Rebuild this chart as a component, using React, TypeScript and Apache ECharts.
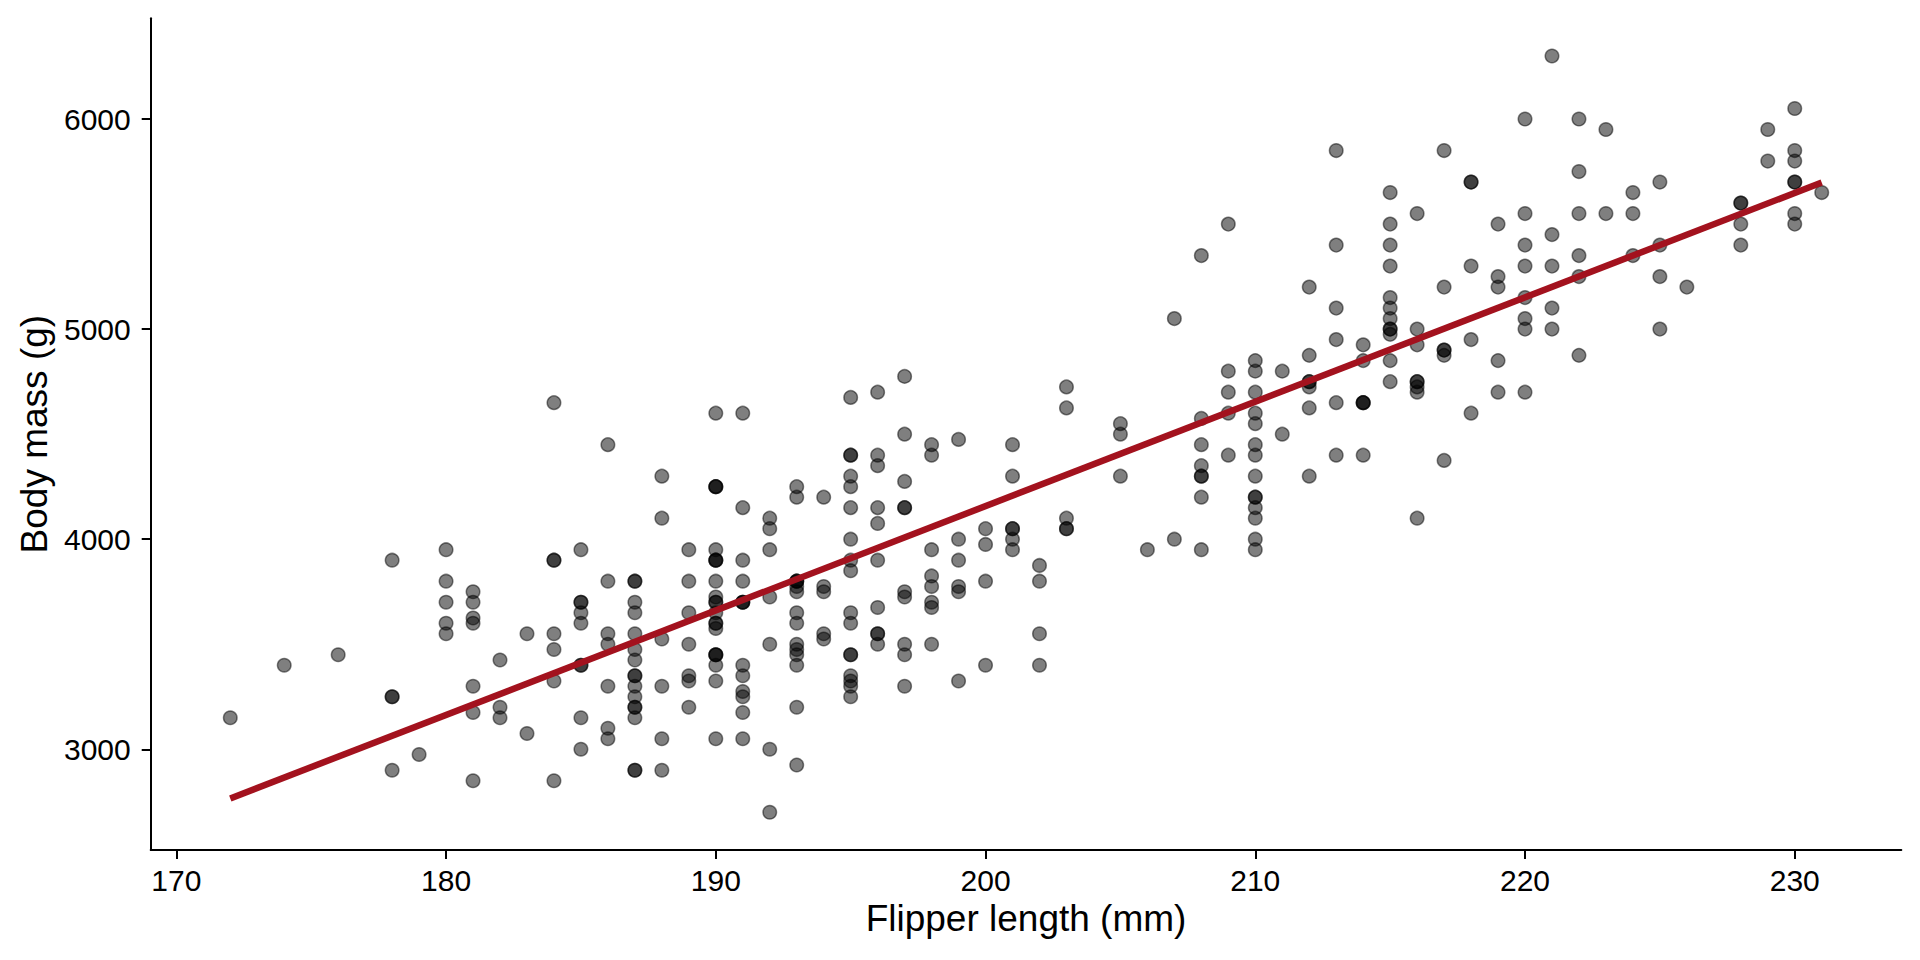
import React, { useEffect, useRef } from "react";
import * as echarts from "echarts";

// Flipper length (mm) and body mass (g), one pair per penguin
const adelieFlipper = [
  181, 186, 195, 193, 190, 181, 195, 193, 190, 186, 180, 182, 191, 198, 185, 195, 197, 184, 194, 174,
  180, 189, 185, 180, 187, 183, 187, 172, 180, 178, 178, 188, 184, 195, 196, 190, 180, 181, 184, 182,
  195, 186, 196, 185, 190, 182, 179, 190, 191, 186, 188, 190, 200, 187, 191, 186, 193, 181, 194, 185,
  195, 185, 192, 184, 192, 195, 188, 190, 198, 190, 190, 196, 197, 190, 195, 191, 184, 187, 195, 189,
  196, 187, 193, 191, 194, 190, 189, 189, 190, 202, 205, 185, 186, 187, 208, 190, 196, 178, 192, 192,
  203, 183, 190, 193, 184, 199, 190, 181, 197, 198, 191, 193, 197, 191, 196, 188, 199, 189, 189, 187,
  198, 176, 202, 186, 199, 191, 195, 191, 210, 190, 197, 193, 199, 187, 190, 191, 200, 185, 193, 193,
  187, 188, 190, 192, 185, 190, 184, 195, 193, 187, 201,
];
const adelieMass = [
  3750, 3800, 3250, 3450, 3650, 3625, 4675, 3475, 4250, 3300, 3700, 3200, 3800, 4400, 3700, 3450, 4500, 3325, 4200, 3400,
  3600, 3800, 3950, 3800, 3800, 3550, 3200, 3150, 3950, 3250, 3900, 3300, 3900, 3325, 4150, 3950, 3550, 3300, 4650, 3150,
  3900, 3100, 4400, 3000, 4600, 3425, 2975, 3450, 4150, 3500, 4300, 3450, 4050, 2900, 3700, 3550, 3800, 2850, 3750, 3150,
  4400, 3600, 4050, 2850, 3950, 3350, 4100, 3050, 4450, 3600, 3900, 3550, 4150, 3700, 4250, 3700, 3900, 3550, 4000, 3200,
  4700, 3800, 4200, 3350, 3550, 3800, 3500, 3950, 3600, 3550, 4300, 3400, 4450, 3300, 4300, 3700, 4350, 2900, 4100, 3725,
  4725, 3075, 4250, 2925, 3550, 3750, 3900, 3175, 4775, 3825, 4600, 3200, 4275, 3900, 4075, 2900, 3775, 3350, 3325, 3150,
  3500, 3450, 3875, 3050, 4000, 3275, 4300, 3050, 4000, 3325, 3500, 3500, 4475, 3425, 3900, 3175, 3975, 3400, 4250, 3400,
  3475, 3050, 3725, 3000, 3650, 4250, 3475, 3450, 3750, 3700, 4000,
];
const gentooFlipper = [
  211, 230, 210, 218, 215, 210, 211, 219, 209, 215, 214, 216, 214, 213, 210, 217, 210, 221, 209, 222,
  218, 215, 213, 215, 215, 215, 216, 215, 210, 220, 222, 209, 207, 230, 220, 220, 213, 219, 208, 208,
  208, 225, 210, 216, 222, 217, 210, 225, 213, 215, 210, 220, 210, 225, 217, 220, 208, 220, 208, 224,
  208, 221, 214, 231, 219, 230, 214, 229, 220, 223, 216, 221, 221, 217, 216, 230, 209, 220, 215, 223,
  212, 221, 212, 224, 212, 228, 218, 218, 212, 230, 218, 228, 212, 224, 214, 226, 216, 222, 203, 225,
  219, 228, 215, 228, 216, 215, 210, 219, 208, 209, 216, 229, 213, 230, 217, 230, 217, 222, 214, 215,
  222, 212, 213,
];
const gentooMass = [
  4500, 5700, 4450, 5700, 5400, 4550, 4800, 5200, 4400, 5150, 4650, 5550, 4650, 5850, 4200, 5850, 4150, 6300, 4800, 5350,
  5700, 5000, 4400, 5050, 5000, 5100, 4100, 5650, 4600, 5550, 5250, 4700, 5050, 6050, 5150, 5400, 4950, 5250, 4350, 5350,
  3950, 5700, 4300, 4750, 5550, 4900, 4200, 5400, 5100, 5300, 4850, 5300, 4400, 5000, 4900, 5050, 4300, 5000, 4450, 5550,
  4200, 5300, 4400, 5650, 4700, 5700, 4650, 5800, 4700, 5550, 4750, 5000, 5100, 5200, 4700, 5800, 4600, 6000, 4750, 5950,
  4625, 5450, 4725, 5350, 4750, 5600, 4600, 5300, 4875, 5550, 4950, 5400, 4750, 5650, 4850, 5200, 4925, 4875, 4625, 5250,
  4850, 5600, 4975, 5500, 4725, 5500, 4700, 5500, 4575, 5500, 5000, 5950, 4650, 5500, 4375, 5850, 4875, 6000, 4925, 4850,
  5750, 5200, 5400,
];
const chinstrapFlipper = [
  192, 196, 193, 188, 197, 198, 178, 197, 195, 198, 193, 194, 185, 201, 190, 201, 197, 181, 190, 195,
  181, 191, 187, 193, 195, 197, 200, 200, 191, 205, 187, 201, 187, 203, 195, 199, 195, 210, 192, 205,
  210, 187, 196, 196, 196, 201, 190, 212, 187, 198, 199, 201, 193, 203, 187, 197, 191, 203, 202, 194,
  206, 189, 195, 207, 202, 193, 210, 198,
];
const chinstrapMass = [
  3500, 3900, 3650, 3525, 3725, 3950, 3250, 3750, 4150, 3700, 3800, 3775, 3700, 4050, 3575, 4050, 3300, 3700, 3450, 4400,
  3600, 3400, 2900, 3800, 3300, 4150, 3400, 3800, 3700, 4550, 3200, 4300, 3350, 4100, 3600, 3900, 3850, 4800, 2700, 4500,
  3950, 3650, 3550, 3500, 3675, 4450, 3400, 4300, 3250, 3675, 3325, 3950, 3600, 4050, 3350, 3450, 3250, 4050, 3800, 3525,
  3950, 3650, 3650, 4000, 3400, 3775, 4100, 3775,
];

// Least-squares fit line endpoints as drawn in the chart
const fitFlipper = [172, 231];
const fitMass = [2766, 5698];

const xTicks = [170, 180, 190, 200, 210, 220, 230];
const yTicks = [3000, 4000, 5000, 6000];

const FONT = "'Liberation Sans', Arial, Helvetica, sans-serif";

export default function App() {
  const ref = useRef<HTMLDivElement>(null);
  useEffect(() => {
    if (!ref.current) return;
    const chart = echarts.init(ref.current, undefined, { renderer: "svg" });
    const points: number[][] = [];
    const groups = [
      [adelieFlipper, adelieMass],
      [gentooFlipper, gentooMass],
      [chinstrapFlipper, chinstrapMass],
    ];
    groups.forEach(([fx, my]) => {
      for (let i = 0; i < Math.min(fx.length, my.length); i++) points.push([fx[i], my[i]]);
    });
    const fit = fitFlipper.map((x, i) => [x, fitMass[i]]);

    chart.setOption({
      animation: false,
      backgroundColor: "#ffffff",
      grid: { left: 150.7, right: 18.7, top: 18.2, bottom: 109.9, containLabel: false },
      xAxis: {
        type: "value",
        min: 169.05,
        max: 233.95,
        splitLine: { show: false },
        axisLine: { show: true, lineStyle: { color: "#000", width: 2 } },
        axisTick: { show: true, length: 9, lineStyle: { color: "#000", width: 2 }, customValues: xTicks },
        axisLabel: {
          customValues: xTicks,
          fontSize: 30,
          color: "#000",
          margin: 15,
          fontFamily: FONT,
          formatter: (v: number) => String(v),
        },
        name: "Flipper length (mm)",
        nameLocation: "middle",
        nameGap: 37,
        nameTextStyle: { fontSize: 37, color: "#000", fontFamily: FONT },
      },
      yAxis: {
        type: "value",
        min: 2520,
        max: 6480,
        splitLine: { show: false },
        axisLine: { show: true, lineStyle: { color: "#000", width: 2 } },
        axisTick: { show: true, length: 9, lineStyle: { color: "#000", width: 2 }, customValues: yTicks },
        axisLabel: {
          customValues: yTicks,
          fontSize: 30,
          color: "#000",
          margin: 20,
          fontFamily: FONT,
          formatter: (v: number) => String(v),
        },
        name: "Body mass (g)",
        nameLocation: "middle",
        nameGap: 94,
        nameRotate: 90,
        nameTextStyle: { fontSize: 37, color: "#000", fontFamily: FONT },
      },
      series: [
        {
          type: "scatter",
          data: points,
          symbol: "circle",
          symbolSize: 13.5,
          itemStyle: { color: "rgba(0,0,0,0.5)", borderColor: "rgba(0,0,0,0.5)", borderWidth: 1.5, opacity: 1 },
          silent: true,
          z: 2,
        },
        {
          type: "line",
          data: fit,
          symbol: "none",
          lineStyle: { color: "#A3121E", width: 6.5, cap: "butt" },
          silent: true,
          z: 3,
        },
      ],
    });
    return () => chart.dispose();
  }, []);
  return (
    <div
      ref={ref}
      style={{ position: "fixed", left: 0, top: 0, width: 1920, height: 960, background: "#fff" }}
    />
  );
}
